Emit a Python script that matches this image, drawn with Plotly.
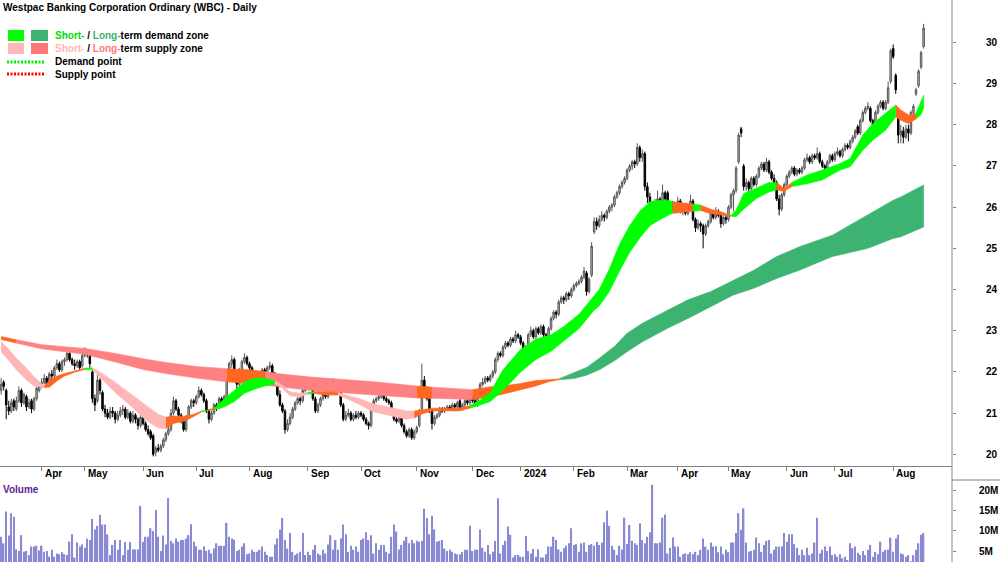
import plotly.graph_objects as go

# ---------------- data ----------------
month_idx = [16, 33, 56, 77, 98, 121, 142, 164, 186, 205, 226, 247, 267, 287, 310, 329, 352]
month_lbl = ['Apr', 'May', 'Jun', 'Jul', 'Aug', 'Sep', 'Oct', 'Nov', 'Dec', '2024',
             'Feb', 'Mar', 'Apr', 'May', 'Jun', 'Jul', 'Aug']
price_ticks = [20, 21, 22, 23, 24, 25, 26, 27, 28, 29, 30]
vol_ticks = [5, 10, 15, 20]
vol_tick_lbl = ['5M', '10M', '15M', '20M']

opens = [
    21.55,21.75,21.55,21.15,21.05,21.30,21.10,21.30,21.55,21.25,
    21.40,21.15,21.30,21.10,21.35,21.55,21.70,21.75,21.85,21.70,
    21.95,21.90,22.10,22.20,22.05,22.25,22.30,22.45,22.30,22.20,
    22.15,22.25,22.15,22.40,22.50,22.40,22.00,21.35,21.30,21.80,
    21.50,21.10,21.00,20.90,21.05,21.00,20.85,20.95,21.05,21.10,
    20.90,21.00,20.80,20.95,20.85,20.70,20.90,20.75,20.60,20.55,
    20.45,20.05,20.15,20.10,20.20,20.35,20.50,20.60,21.00,21.30,
    21.10,20.95,20.80,20.60,20.90,21.15,21.30,21.25,21.40,21.55,
    21.45,21.30,21.05,20.85,21.00,21.20,21.15,21.35,21.25,21.40,
    21.80,22.20,22.30,21.90,21.70,22.05,22.25,22.35,22.20,22.10,
    21.85,21.95,21.80,21.90,22.05,21.90,22.10,22.15,21.95,21.75,
    21.45,21.20,21.05,20.60,20.75,20.90,21.10,21.25,21.35,21.30,
    21.55,21.70,21.75,21.65,21.35,21.05,21.20,21.35,21.45,21.40,
    21.50,21.65,21.75,21.70,21.55,21.20,20.85,20.95,21.00,20.85,
    20.95,20.90,21.00,20.95,20.85,20.75,20.70,21.15,21.30,21.35,
    21.40,21.45,21.35,21.30,21.25,21.05,20.85,20.80,20.90,20.70,
    20.55,20.45,20.60,20.40,20.55,20.70,21.10,21.80,21.60,21.35,
    21.05,20.75,20.90,20.95,21.10,21.05,21.10,21.15,21.10,21.20,
    21.15,21.30,21.10,21.20,21.30,21.25,21.35,21.30,21.20,21.45,
    21.70,21.75,21.85,21.80,21.90,22.00,22.30,22.45,22.40,22.60,
    22.70,22.65,22.80,22.75,22.90,22.85,22.70,22.55,22.60,22.90,
    23.00,22.85,23.05,22.95,23.10,22.90,22.70,23.05,23.30,23.45,
    23.40,23.70,23.80,23.75,23.90,23.85,24.00,24.10,24.15,24.20,
    24.30,24.40,23.95,24.35,25.40,25.65,25.55,25.70,25.80,25.75,
    25.90,26.00,26.05,26.25,26.35,26.50,26.60,26.70,26.90,27.00,
    27.10,27.05,27.45,27.20,27.30,26.50,26.25,26.10,25.90,26.10,
    26.20,26.00,26.35,26.35,25.95,26.10,25.95,26.00,26.15,25.90,
    26.05,25.85,26.00,26.15,25.70,25.50,25.60,25.55,25.35,25.55,
    25.65,25.85,25.75,25.90,25.80,25.60,25.75,25.70,26.00,26.30,
    26.40,27.10,27.90,27.00,26.50,26.60,26.45,26.70,26.55,26.75,
    26.95,27.05,26.90,27.10,26.85,26.70,26.60,26.20,25.95,26.30,
    26.55,26.75,26.85,26.95,26.80,26.90,26.85,26.95,27.15,27.20,
    27.10,27.25,27.20,27.30,27.10,27.00,26.95,27.10,27.25,27.15,
    27.30,27.35,27.25,27.40,27.50,27.45,27.60,27.70,27.95,27.80,
    28.10,28.30,28.40,28.40,28.10,27.95,28.30,28.45,28.55,28.40,
    28.55,29.05,29.85,29.20,28.20,27.75,27.85,27.70,27.90,27.80,
    28.30,28.75,28.95,29.40,29.90]

highs = [
    21.85,21.80,21.60,21.30,21.35,21.35,21.40,21.65,21.60,21.50,
    21.45,21.35,21.35,21.40,21.65,21.75,21.85,21.95,21.90,22.00,
    22.05,22.15,22.30,22.25,22.30,22.35,22.55,22.50,22.35,22.30,
    22.30,22.30,22.50,22.60,22.55,22.45,22.05,21.45,22.00,21.85,
    21.55,21.20,21.10,21.15,21.15,21.05,21.05,21.15,21.20,21.15,
    21.10,21.05,21.05,21.00,20.90,20.95,20.95,20.80,20.70,20.60,
    20.50,20.20,20.25,20.25,20.40,20.55,20.70,21.10,21.40,21.35,
    21.15,21.00,20.85,20.95,21.20,21.35,21.35,21.45,21.65,21.60,
    21.50,21.35,21.10,21.05,21.25,21.25,21.40,21.40,21.45,21.85,
    22.25,22.40,22.35,21.95,22.10,22.30,22.45,22.40,22.25,22.15,
    22.00,22.00,21.95,22.10,22.10,22.15,22.25,22.20,22.00,21.80,
    21.55,21.25,21.10,20.85,21.00,21.15,21.30,21.40,21.40,21.60,
    21.80,21.85,21.80,21.70,21.40,21.25,21.40,21.50,21.50,21.55,
    21.75,21.85,21.80,21.75,21.60,21.25,21.05,21.10,21.05,21.00,
    21.05,21.05,21.05,21.00,20.90,20.80,21.20,21.35,21.40,21.45,
    21.55,21.50,21.40,21.35,21.30,21.10,20.90,20.95,20.95,20.75,
    20.60,20.65,20.65,20.60,20.70,21.10,22.20,21.90,21.65,21.40,
    21.10,20.95,21.00,21.15,21.15,21.15,21.20,21.20,21.25,21.25,
    21.30,21.35,21.25,21.35,21.35,21.40,21.40,21.35,21.50,21.75,
    21.85,21.90,21.90,21.95,22.05,22.35,22.50,22.50,22.65,22.75,
    22.75,22.85,22.85,23.00,22.95,22.90,22.75,22.65,22.95,23.10,
    23.05,23.10,23.10,23.15,23.15,22.95,23.10,23.35,23.50,23.50,
    23.75,23.85,23.85,23.95,23.95,24.05,24.15,24.20,24.25,24.35,
    24.55,24.45,24.30,25.15,25.75,25.75,25.80,25.90,25.85,25.95,
    26.05,26.10,26.30,26.40,26.55,26.65,26.75,26.95,27.05,27.15,
    27.15,27.55,27.50,27.40,27.35,26.60,26.35,26.15,26.20,26.40,
    26.25,26.55,26.40,26.40,26.15,26.15,26.10,26.25,26.20,26.10,
    26.10,26.05,26.30,26.20,25.75,25.70,25.65,25.60,25.60,25.70,
    25.90,25.90,26.00,25.95,25.85,25.80,25.80,26.05,26.35,26.45,
    27.00,27.80,27.95,27.05,26.70,26.65,26.75,26.75,26.80,27.00,
    27.10,27.10,27.20,27.15,26.90,26.80,26.65,26.30,26.35,26.60,
    26.80,26.90,27.00,27.00,26.95,26.95,27.00,27.20,27.30,27.25,
    27.30,27.30,27.45,27.35,27.15,27.05,27.15,27.30,27.30,27.35,
    27.45,27.40,27.45,27.55,27.55,27.65,27.75,27.90,28.00,28.15,
    28.35,28.45,28.55,28.45,28.15,28.35,28.50,28.60,28.60,28.60,
    29.05,29.85,29.95,29.25,28.25,28.00,27.95,28.00,28.00,28.35,
    28.50,28.90,29.35,29.80,30.45]

lows = [
    21.45,21.55,20.85,20.95,21.00,21.05,21.05,21.25,21.15,21.20,
    21.05,21.10,21.00,21.05,21.30,21.50,21.60,21.70,21.65,21.65,
    21.80,21.85,22.05,22.00,22.00,22.15,22.25,22.25,22.15,22.05,
    22.10,22.05,22.10,22.35,22.35,22.10,21.25,21.05,21.25,21.45,
    21.05,20.90,20.85,20.85,20.90,20.75,20.80,20.90,20.95,20.85,
    20.85,20.75,20.75,20.75,20.60,20.65,20.70,20.55,20.45,20.35,
    19.95,19.95,20.05,20.05,20.15,20.30,20.45,20.55,20.95,21.05,
    20.90,20.75,20.55,20.55,20.85,21.10,21.15,21.20,21.35,21.40,
    21.25,21.00,20.75,20.80,20.95,21.05,21.10,21.20,21.20,21.35,
    21.75,22.10,21.85,21.60,21.65,22.00,22.20,22.15,22.05,21.80,
    21.80,21.75,21.75,21.85,21.85,21.85,22.05,21.90,21.70,21.40,
    21.15,21.00,20.50,20.55,20.70,20.85,21.05,21.20,21.20,21.25,
    21.50,21.65,21.60,21.30,21.00,21.00,21.15,21.30,21.35,21.35,
    21.45,21.60,21.60,21.50,21.15,20.80,20.80,20.90,20.80,20.80,
    20.85,20.85,20.90,20.80,20.70,20.60,20.65,21.10,21.25,21.30,
    21.35,21.30,21.25,21.20,21.00,20.80,20.75,20.75,20.65,20.50,
    20.40,20.40,20.35,20.35,20.50,20.65,21.05,21.55,21.30,21.00,
    20.60,20.70,20.85,20.90,21.00,21.00,21.05,21.05,21.05,21.10,
    21.10,21.05,21.05,21.15,21.20,21.20,21.25,21.15,21.15,21.40,
    21.65,21.70,21.75,21.75,21.85,21.95,22.25,22.35,22.35,22.55,
    22.60,22.60,22.70,22.70,22.80,22.65,22.50,22.50,22.55,22.85,
    22.80,22.80,22.90,22.90,22.85,22.65,22.65,23.00,23.25,23.30,
    23.35,23.65,23.65,23.70,23.75,23.80,23.95,24.05,24.10,24.15,
    24.25,23.85,23.90,24.30,25.35,25.45,25.50,25.65,25.65,25.70,
    25.85,25.90,26.00,26.20,26.30,26.45,26.55,26.65,26.85,26.90,
    26.95,27.00,27.10,27.10,26.40,26.10,26.00,25.60,25.85,26.05,
    25.95,25.95,26.10,25.90,25.85,25.90,25.85,25.95,25.85,25.80,
    25.80,25.80,25.95,25.65,25.40,25.45,25.40,25.00,25.30,25.50,
    25.60,25.70,25.70,25.75,25.50,25.55,25.60,25.65,25.95,25.90,
    26.35,27.05,27.70,26.40,26.40,26.35,26.40,26.50,26.50,26.70,
    26.90,26.85,26.85,26.80,26.65,26.55,26.15,25.80,25.90,26.25,
    26.50,26.70,26.80,26.75,26.75,26.80,26.80,26.90,27.10,27.05,
    27.05,27.15,27.15,27.05,26.95,26.85,26.90,27.05,27.10,27.10,
    27.25,27.20,27.20,27.35,27.40,27.40,27.55,27.65,27.75,27.75,
    28.05,28.25,28.35,28.05,27.90,27.90,28.25,28.40,28.35,28.35,
    28.50,29.00,29.60,28.75,27.55,27.55,27.55,27.65,27.60,27.75,
    28.20,28.70,28.90,29.35,29.85]

closes = [
    21.70,21.65,21.20,21.05,21.25,21.15,21.30,21.55,21.25,21.45,
    21.15,21.25,21.10,21.35,21.60,21.70,21.75,21.85,21.70,21.95,
    21.90,22.10,22.20,22.05,22.25,22.30,22.45,22.30,22.20,22.15,
    22.25,22.10,22.40,22.50,22.45,22.20,21.35,21.20,21.80,21.55,
    21.10,21.00,20.90,21.05,21.00,20.85,20.95,21.05,21.10,20.90,
    21.00,20.80,20.95,20.85,20.70,20.90,20.75,20.60,20.50,20.40,
    20.00,20.15,20.10,20.20,20.35,20.50,20.60,21.00,21.30,21.10,
    20.95,20.80,20.60,20.90,21.15,21.30,21.25,21.40,21.55,21.45,
    21.30,21.05,20.85,21.00,21.20,21.15,21.35,21.25,21.40,21.80,
    22.20,22.30,21.90,21.70,22.05,22.25,22.35,22.20,22.10,21.85,
    21.95,21.80,21.90,22.05,21.90,22.10,22.15,21.95,21.75,21.45,
    21.20,21.05,20.60,20.75,20.90,21.10,21.25,21.35,21.30,21.55,
    21.70,21.75,21.65,21.35,21.05,21.20,21.35,21.45,21.40,21.50,
    21.65,21.75,21.70,21.55,21.20,20.85,20.95,21.00,20.85,20.95,
    20.90,21.00,20.95,20.85,20.75,20.70,21.15,21.30,21.35,21.40,
    21.45,21.35,21.30,21.25,21.05,20.85,20.80,20.90,20.70,20.55,
    20.45,20.60,20.40,20.55,20.65,21.05,21.80,21.60,21.35,21.05,
    20.75,20.90,20.95,21.10,21.05,21.10,21.15,21.10,21.20,21.15,
    21.25,21.10,21.20,21.30,21.25,21.35,21.30,21.20,21.45,21.70,
    21.75,21.85,21.80,21.90,22.00,22.30,22.45,22.40,22.60,22.70,
    22.65,22.80,22.75,22.90,22.85,22.70,22.55,22.60,22.90,23.00,
    22.85,23.05,22.95,23.10,22.90,22.70,23.05,23.30,23.45,23.40,
    23.70,23.80,23.75,23.90,23.85,24.00,24.10,24.15,24.20,24.30,
    24.45,23.95,24.25,25.05,25.65,25.55,25.70,25.80,25.75,25.90,
    26.00,26.05,26.25,26.35,26.50,26.60,26.70,26.90,27.00,27.10,
    27.05,27.45,27.20,27.30,26.50,26.25,26.10,25.90,26.10,26.20,
    26.00,26.35,26.20,25.95,26.10,25.95,26.00,26.15,25.90,26.05,
    25.85,26.00,26.15,25.70,25.50,25.60,25.55,25.35,25.55,25.65,
    25.85,25.75,25.90,25.80,25.60,25.75,25.70,26.00,26.30,26.40,
    26.95,27.75,27.80,26.50,26.60,26.45,26.70,26.55,26.75,26.95,
    27.05,26.90,27.10,26.85,26.70,26.60,26.20,25.95,26.30,26.55,
    26.75,26.85,26.95,26.80,26.90,26.85,26.95,27.15,27.20,27.10,
    27.25,27.20,27.30,27.10,27.00,26.95,27.10,27.25,27.15,27.30,
    27.35,27.25,27.40,27.50,27.45,27.60,27.70,27.85,27.80,28.10,
    28.30,28.40,28.45,28.10,27.95,28.30,28.45,28.55,28.40,28.55,
    28.90,29.80,29.65,28.85,27.75,27.85,27.70,27.90,27.80,28.30,
    28.45,28.85,29.30,29.75,30.35]

volume_m = [
    8.5,6.9,14.7,8.8,14.3,13.4,5.4,5.0,8.9,4.8,
    5.0,4.0,6.1,6.1,6.3,5.1,6.3,4.8,5.0,3.6,
    5.3,3.6,4.4,4.2,4.7,4.2,4.0,7.3,9.1,3.4,
    7.1,6.1,6.6,5.8,8.0,7.7,12.9,10.3,11.2,13.9,
    11.5,11.5,9.1,4.0,6.5,7.7,5.3,7.7,4.0,7.2,
    5.3,7.2,5.4,5.4,5.4,16.1,7.3,8.5,8.5,10.6,
    9.9,15.1,8.5,5.0,8.8,6.6,18.0,7.5,6.9,8.1,
    7.3,7.7,7.7,8.1,8.9,11.6,7.3,6.2,5.3,5.3,
    6.1,5.0,5.3,4.4,5.6,6.9,6.3,6.3,6.3,11.9,
    8.5,8.1,7.8,5.0,5.3,6.1,6.9,4.2,4.4,5.3,
    4.8,4.8,5.3,6.1,4.8,4.0,3.6,3.6,6.6,8.1,
    10.3,13.1,7.7,5.6,9.4,4.8,4.0,4.4,4.8,9.4,
    4.0,4.8,4.0,5.3,6.5,4.4,4.0,5.3,4.4,6.6,
    8.9,5.3,7.7,5.3,8.1,11.5,9.1,4.8,6.3,5.3,
    6.1,4.8,7.7,8.1,9.6,7.7,8.9,4.4,6.9,5.3,
    6.5,6.5,4.8,4.4,8.5,11.5,9.8,5.4,6.5,7.5,
    8.5,6.9,7.7,6.9,7.5,7.3,7.5,15.4,13.1,9.1,
    13.7,10.3,7.3,7.5,7.7,5.6,5.0,5.3,4.8,4.4,
    4.2,4.2,4.8,5.3,5.3,11.2,5.0,5.3,5.3,10.3,
    5.8,4.8,6.5,4.2,4.8,7.5,18.0,
    4.4,6.5,7.5,11.0,9.0,3.4,4.0,4.0,3.6,3.6,
    8.7,5.0,4.4,5.5,3.6,5.4,3.4,3.4,4.2,6.1,
    6.1,8.5,7.7,5.4,4.8,5.7,6.3,6.9,10.6,6.5,
    6.7,4.8,6.9,7.1,4.8,6.5,6.7,6.3,7.3,6.5,
    7.1,12.1,14.9,11.2,6.3,5.3,4.0,6.3,5.4,
    13.2,6.7,11.4,7.5,6.9,6.5,11.8,7.7,6.9,8.5,
    9.6,21.3,6.9,6.9,7.1,13.2,14.0,4.4,5.8,8.3,
    6.1,6.1,3.6,4.2,4.4,4.2,4.7,4.2,4.8,4.0,
    5.3,8.1,6.1,5.3,7.1,6.1,6.2,4.7,6.1,4.2,
    5.3,4.7,7.1,7.1,9.4,14.3,10.2,15.5,7.1,4.8,
    5.0,5.3,8.3,6.9,4.8,6.5,7.5,7.7,4.4,5.3,
    6.1,6.1,6.2,9.4,7.3,9.1,9.1,6.7,5.8,4.0,
    5.3,4.0,5.8,4.0,4.4,7.1,13.2,4.4,5.3,
    6.1,5.0,6.1,4.0,4.2,3.6,4.2,3.2,3.6,2.8,
    6.9,5.7,6.1,4.6,4.0,5.0,4.0,5.3,6.5,3.6,
    4.8,4.2,7.3,4.8,5.3,5.3,8.3,4.8,8.1,9.0,
    4.4,4.2,3.6,4.0,2.5,4.0,5.3,6.9,9.0,9.4]

# short-term zone edges (sampled at trading-day index) and zone state
st_idx = [0,3,6,10,13,17,19,22,25,29,33,36,39,45,52,57,62,65,68,72,76,79,81,84,88,92,96,100,104,108,
          110,114,118,121,123,128,133,137,141,147,153,160,163,166,170,175,180,185,189,193,198,205,211,217,222,
          228,234,236,240,244,248,252,256,260,263,265,270,273,276,280,284,288,290,293,298,303,306,309,312,318,
          324,331,335,340,344,349,353,355,358,361,363,364]
st_up = [22.73,22.55,22.33,22.09,21.88,21.66,21.80,21.90,21.96,22.02,
         22.09,22.10,22.00,21.75,21.44,21.20,20.97,20.90,20.93,20.92,
         20.97,21.05,21.07,21.12,21.35,21.55,21.76,21.85,21.85,21.78,
         21.72,21.52,21.48,21.50,21.52,21.52,21.50,21.42,21.36,21.22,
         21.15,21.05,21.05,21.08,21.12,21.12,21.12,21.18,21.32,21.50,
         22.05,22.55,22.80,22.90,23.10,23.40,23.85,24.00,24.50,25.10,
         25.55,25.90,26.13,26.17,26.17,26.13,26.09,26.08,26.05,25.95,
         25.89,25.80,25.93,26.33,26.46,26.60,26.60,26.45,26.60,26.78,
         26.90,27.06,27.18,27.75,28.03,28.28,28.48,28.36,28.24,28.28,
         28.55,28.72]
st_lo = [22.49,22.28,22.05,21.80,21.66,21.62,21.63,21.78,21.90,21.99,
         22.06,22.05,21.86,21.50,21.13,20.83,20.64,20.62,20.75,20.80,
         20.92,21.03,21.05,21.08,21.15,21.28,21.48,21.58,21.66,21.70,
         21.66,21.42,21.40,21.46,21.48,21.44,21.44,21.33,21.22,21.03,
         20.95,20.85,20.88,20.98,21.05,21.06,21.05,21.12,21.20,21.28,
         21.55,22.00,22.30,22.50,22.75,23.05,23.50,23.60,23.95,24.45,
         24.90,25.25,25.55,25.70,25.80,25.85,25.88,25.90,25.92,25.84,
         25.81,25.78,25.77,25.95,26.21,26.37,26.42,26.38,26.50,26.57,
         26.66,26.90,26.98,27.38,27.63,27.87,28.19,28.11,28.03,28.14,
         28.25,28.40]
# D = demand, S = supply, T = transition (one entry per interval)
st_state = list("SSSSS" "TTTTT" "D" "SSSSSS" "TTTT" "D" "T" "DDDDDD" "SSSS" "D" "TT"
                "SSSSSS" "TTTTT" + "D" * 18 + "TT" "D" "TTT" "DDDDD" "TT" "DDDDDDDD" "TTT" "DD")

# long-term zone edges and zone state
lt_idx = [0,6,16,33,45,56,65,77,89,98,104,108,121,147,164,170,186,193,198,205,211,216,220,
          226,231,236,242,247,253,263,271,280,289,297,306,315,328,342,352,355,364]
lt_up = [22.86,22.78,22.66,22.57,22.45,22.32,22.23,22.13,22.08,22.05,22.01,21.97,21.88,21.76,
         21.66,21.63,21.57,21.64,21.66,21.72,21.79,21.81,21.83,21.98,22.11,22.33,22.62,22.94,
         23.18,23.50,23.75,23.95,24.23,24.47,24.80,25.04,25.32,25.81,26.17,26.25,26.54]
lt_lo = [22.79,22.70,22.56,22.43,22.24,22.06,21.96,21.85,21.76,21.72,21.68,21.65,21.56,21.44,
         21.37,21.36,21.33,21.40,21.46,21.56,21.66,21.76,21.81,21.84,21.92,22.05,22.27,22.49,
         22.73,23.06,23.30,23.58,23.87,24.03,24.27,24.47,24.80,25.00,25.24,25.28,25.52]
lt_state = list("T" "SSSSSSS" "TT" "SSSS" "T" "S" "TTTTTT" + "D" * 18)

# ---------------- styling ----------------
FONT = "Liberation Sans, Arial, sans-serif"
W, H = 1000, 562
PLOT_R = 952


def px_x(p):
    return p / W


def px_y(p):
    return 1 - p / H


ST_COL = {'S': '#ffb6b6', 'T': '#ff6622', 'D': '#00ff00'}
LT_COL = {'S': '#ff8080', 'T': '#ff6622', 'D': '#3cb371'}

fig = go.Figure()


def add_band(idx, up, lo, states, cmap):
    start = 0
    n = len(states)
    for k in range(1, n + 1):
        if k == n or states[k] != states[start]:
            xs = idx[start:k + 1] + idx[start:k + 1][::-1]
            ys = up[start:k + 1] + lo[start:k + 1][::-1]
            c = cmap[states[start]]
            fig.add_trace(go.Scatter(x=xs, y=ys, fill='toself', fillcolor=c, mode='lines',
                                     line=dict(color=c, width=0.6), hoverinfo='skip',
                                     showlegend=False, xaxis='x', yaxis='y'))
            start = k


add_band(lt_idx, lt_up, lt_lo, lt_state, LT_COL)
add_band(st_idx, st_up, st_lo, st_state, ST_COL)

days = list(range(len(closes)))
fig.add_trace(go.Candlestick(
    x=days, open=opens, high=highs, low=lows, close=closes,
    increasing=dict(line=dict(color='#555555', width=1), fillcolor='#bdbdbd'),
    decreasing=dict(line=dict(color='#000000', width=1), fillcolor='#000000'),
    whiskerwidth=0, showlegend=False, hoverinfo='skip', xaxis='x', yaxis='y'))

fig.add_trace(go.Bar(x=list(range(len(volume_m))), y=volume_m,
                     marker=dict(color='#8a8ad4', line=dict(width=0)),
                     showlegend=False, hoverinfo='skip', xaxis='x2', yaxis='y2'))

xr = [-0.45, 375.2]
tickfont = dict(family=FONT, size=10, color='black', weight='bold')
fig.update_layout(
    width=W, height=H, margin=dict(l=0, r=0, t=0, b=0), autosize=False,
    paper_bgcolor='white', plot_bgcolor='white', showlegend=False, bargap=0.45, boxgap=0.15,
    font=dict(family=FONT, size=10, color='black'),
    xaxis=dict(domain=[0, PLOT_R / W], range=xr, anchor='y', showgrid=False, zeroline=False,
               showline=True, linecolor='#7f7f7f', linewidth=1, ticks='outside', ticklen=4,
               tickcolor='#7f7f7f', tickvals=month_idx, showticklabels=False,
               rangeslider=dict(visible=False)),
    yaxis=dict(domain=[1 - 466 / H, 1], range=[19.716, 31.03], side='right', anchor='x',
               showgrid=False, zeroline=False, showline=False, ticks='outside', ticklen=3,
               tickcolor='#7f7f7f', tickvals=price_ticks, tickfont=tickfont, ticklabelstandoff=28),
    xaxis2=dict(domain=[0, PLOT_R / W], range=xr, anchor='y2', showgrid=False, zeroline=False,
                showline=False, showticklabels=False, ticks=''),
    yaxis2=dict(domain=[0, 80 / H], range=[2.3, 21.97], side='right', anchor='x2',
                showgrid=False, zeroline=False, showline=False, ticks='outside', ticklen=3,
                tickcolor='#7f7f7f', tickvals=vol_ticks, ticktext=vol_tick_lbl, tickfont=tickfont,
                ticklabelstandoff=21),
)

shapes = [
    dict(type='line', xref='paper', yref='paper', x0=px_x(PLOT_R), x1=px_x(PLOT_R), y0=0, y1=1,
         line=dict(color='#8c8c8c', width=1)),
    dict(type='line', xref='paper', yref='paper', x0=px_x(PLOT_R), x1=1, y0=px_y(480), y1=px_y(480),
         line=dict(color='#7f7f7f', width=1)),
    # legend swatches
    dict(type='rect', xref='paper', yref='paper', x0=px_x(8), x1=px_x(24), y0=px_y(41), y1=px_y(30),
         fillcolor='#00ff00', line=dict(width=0)),
    dict(type='rect', xref='paper', yref='paper', x0=px_x(31), x1=px_x(48), y0=px_y(41), y1=px_y(30),
         fillcolor='#3cb371', line=dict(width=0)),
    dict(type='rect', xref='paper', yref='paper', x0=px_x(8), x1=px_x(24), y0=px_y(54), y1=px_y(43),
         fillcolor='#ffb6b6', line=dict(width=0)),
    dict(type='rect', xref='paper', yref='paper', x0=px_x(31), x1=px_x(48), y0=px_y(54), y1=px_y(43),
         fillcolor='#ff7878', line=dict(width=0)),
    dict(type='line', xref='paper', yref='paper', x0=px_x(7), x1=px_x(44), y0=px_y(62), y1=px_y(62),
         line=dict(color='#00ee00', width=3, dash='2px,1.5px')),
    dict(type='line', xref='paper', yref='paper', x0=px_x(7), x1=px_x(44), y0=px_y(74), y1=px_y(74),
         line=dict(color='#ff0000', width=3, dash='2px,1.5px')),
]
fig.update_layout(shapes=shapes)

ann = []
for i, lbl in zip(month_idx, month_lbl):
    ann.append(dict(x=i, xref='x', y=px_y(474), yref='paper', text=lbl, showarrow=False,
                    xanchor='left', yanchor='middle', xshift=1,
                    font=dict(family=FONT, size=10, color='black', weight='bold')))


def txt(x, y, text, color='black'):
    ann.append(dict(x=px_x(x), y=px_y(y), xref='paper', yref='paper', text=text, showarrow=False,
                    xanchor='left', yanchor='middle',
                    font=dict(family=FONT, size=10, color=color, weight='bold')))


txt(1, 8, 'Westpac Banking Corporation Ordinary (WBC) - Daily')
txt(53, 35.5, "<span style='color:#00dd00'>Short-</span> / <span style='color:#3cb371'>Long-</span>term demand zone")
txt(53, 48.5, "<span style='color:#ffb6b6'>Short-</span> / <span style='color:#ff7878'>Long-</span>term supply zone")
txt(53, 62, 'Demand point')
txt(53, 74.5, 'Supply point')
txt(1, 489, 'Volume', color='#5b1f8f')
fig.update_layout(annotations=ann)

fig.write_html("out.html")
